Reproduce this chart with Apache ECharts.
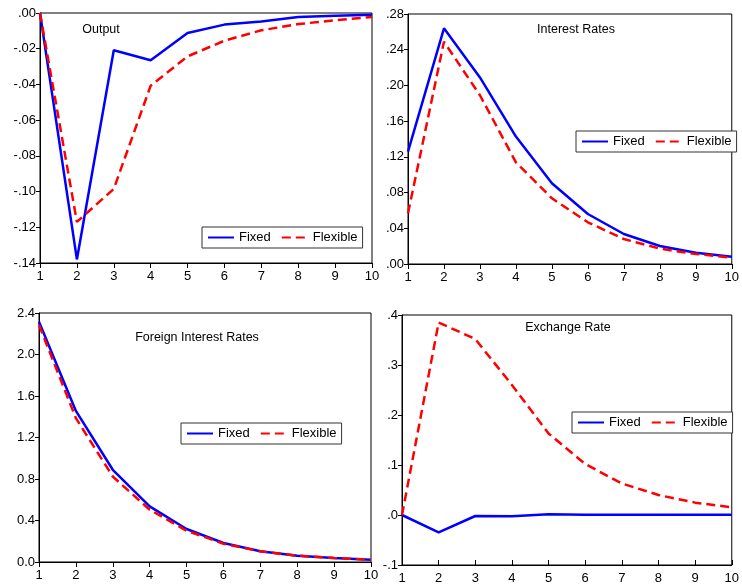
<!DOCTYPE html>
<html><head><meta charset="utf-8">
<script src="https://cdn.jsdelivr.net/npm/echarts@6/dist/echarts.min.js"></script>
<style>html,body{margin:0;padding:0;background:#fff}#c{width:742px;height:586px}</style>
</head><body><div id="c"></div>
<script>
const periods = [1,2,3,4,5,6,7,8,9,10];
const outputFixed = [0, -0.138, -0.0209, -0.0265, -0.0112, -0.0065, -0.0047, -0.0022, -0.0015, -0.001];
const outputFlexible = [0, -0.117, -0.0985, -0.0407, -0.0243, -0.0155, -0.0097, -0.0062, -0.0041, -0.0022];
const rateFixed = [0.1259, 0.264, 0.209, 0.1427, 0.0904, 0.056, 0.0336, 0.0202, 0.0127, 0.0082];
const rateFlexible = [0.0568, 0.249, 0.189, 0.1139, 0.0736, 0.0467, 0.028, 0.0172, 0.0112, 0.0071];
const foreignFixed = [2.316, 1.456, 0.889, 0.536, 0.318, 0.183, 0.103, 0.061, 0.038, 0.022];
const foreignFlexible = [2.284, 1.386, 0.824, 0.504, 0.302, 0.176, 0.103, 0.061, 0.038, 0.022];
const fxFixed = [0, -0.0347, -0.002, -0.0027, 0.0013, 0.0007, 0.0006, 0.0006, 0.0005, 0.0005];
const fxFlexible = [0, 0.385, 0.352, 0.26, 0.163, 0.102, 0.063, 0.04, 0.0247, 0.0153];
const panelTitles = ['Output', 'Interest Rates', 'Foreign Interest Rates', 'Exchange Rate'];
const seriesNames = ['Fixed', 'Flexible'];

const FONT = '"Liberation Sans", Arial, sans-serif';
const pairs = arr => arr.map((v, i) => [periods[i], v]);
const fmt = d => v => { let s = Math.abs(v) < 1e-9 ? (0).toFixed(d) : v.toFixed(d); return s.replace(/^(-?)0\./, '$1.'); };
const fmt1keep = v => (Math.abs(v) < 1e-9 ? 0 : v).toFixed(1);

const grids = [
  {left: 40, top: 13, right: 370, bottom: 323},
  {left: 408, top: 14, right: 2, bottom: 322},
  {left: 39, top: 313, right: 371, bottom: 24},
  {left: 402, top: 315, right: 9, bottom: 21}
];
const yCfg = [
  {min: -0.14, max: 0, interval: 0.02, f: fmt(2)},
  {min: 0, max: 0.28, interval: 0.04, f: fmt(2)},
  {min: 0, max: 2.4, interval: 0.4, f: fmt1keep},
  {min: -0.1, max: 0.4, interval: 0.1, f: fmt(1)}
];
const tickInside = [false, false, false, true];
const data = [[outputFixed, outputFlexible],[rateFixed, rateFlexible],[foreignFixed, foreignFlexible],[fxFixed, fxFlexible]];
const legendPos = [
  {left: 202, top: 227},
  {left: 576, top: 131},
  {left: 181, top: 423},
  {left: 572, top: 412}
];
const titlePos = [[101, 30], [576, 30], [197, 338], [568, 328]];

const axisTxt = {color: '#000', fontFamily: FONT, fontSize: 13};
const option = {
  animation: false,
  backgroundColor: '#fff',
  grid: grids.map(g => Object.assign({show: true, borderColor: '#000', borderWidth: 1, backgroundColor: 'transparent'}, g)),
  xAxis: grids.map((g, i) => ({
    type: 'value', gridIndex: i, min: 1, max: 10, interval: 1,
    axisLine: {show: true, onZero: false, lineStyle: {color: '#000', width: 1}},
    axisTick: {show: true, inside: tickInside[i], length: 5, lineStyle: {color: '#000'}},
    splitLine: {show: false},
    axisLabel: Object.assign({margin: 7}, axisTxt)
  })),
  yAxis: yCfg.map((c, i) => ({
    type: 'value', gridIndex: i, min: c.min, max: c.max, interval: c.interval,
    axisLine: {show: true, onZero: false, lineStyle: {color: '#000', width: 1}},
    axisTick: {show: true, length: 4, lineStyle: {color: '#000'}},
    splitLine: {show: false},
    axisLabel: Object.assign({margin: 4, formatter: c.f}, axisTxt)
  })),
  legend: legendPos.map((p, i) => ({
    left: p.left, top: p.top,
    data: [{name: seriesNames[0] + '#' + i}, {name: seriesNames[1] + '#' + i}],
    formatter: n => n.split('#')[0],
    orient: 'horizontal',
    itemWidth: 26, itemHeight: 10, itemGap: 10,
    padding: [4, 5, 4, 5],
    borderColor: '#333', borderWidth: 1, borderRadius: 0,
    backgroundColor: '#fff',
    itemStyle: {opacity: 0},
    textStyle: {fontFamily: FONT, fontSize: 13, color: '#000'}
  })),
  graphic: panelTitles.map((t, i) => ({
    type: 'text', x: titlePos[i][0], y: titlePos[i][1],
    style: {text: t, fontFamily: FONT, fontSize: 12.5, fill: '#000', align: 'center', verticalAlign: 'middle'}
  })),
  series: []
};
data.forEach((pair, i) => {
  pair.forEach((arr, j) => {
    option.series.push({
      type: 'line', name: seriesNames[j] + '#' + i, xAxisIndex: i, yAxisIndex: i,
      data: pairs(arr), showSymbol: false, symbol: 'none',
      z: j === 0 ? 3 : 4,
      lineStyle: {color: j === 0 ? '#0000ff' : '#ff0000', width: 2.5, type: j === 0 ? 'solid' : [9, 5]},
      itemStyle: {color: j === 0 ? '#0000ff' : '#ff0000'}
    });
  });
});
const chart = echarts.init(document.getElementById('c'), null, {renderer: 'canvas'});
chart.setOption(option);
</script></body></html>
